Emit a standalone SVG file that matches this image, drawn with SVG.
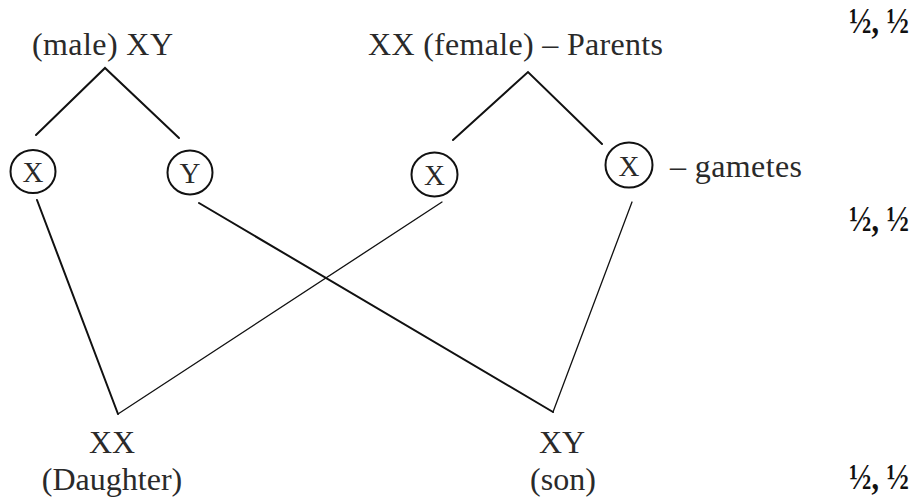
<svg xmlns="http://www.w3.org/2000/svg" width="920" height="498" viewBox="0 0 920 498">
<style>
.t{font-family:"Liberation Serif","Times New Roman",serif;font-size:32px;fill:#2a2a2a}
.c{font-family:"Liberation Serif","Times New Roman",serif;font-size:29px;fill:#2a2a2a;text-anchor:middle}
.h{font-family:"Liberation Serif","Times New Roman",serif;font-size:36px;font-weight:bold;fill:#111}
.o{fill:none;stroke:#111;stroke-width:2}
.l{fill:none;stroke:#111;stroke-width:2;stroke-linecap:round;stroke-linejoin:miter}
.l2{fill:none;stroke:#111;stroke-width:1.3;stroke-linecap:round}
</style>
<rect width="920" height="498" fill="#fff"/>
<g id="male"><text class="t" x="32" y="55" textLength="141">(male) XY</text></g>
<g id="female"><text class="t" x="368" y="55" textLength="295">XX (female) – Parents</text></g>
<g id="gx1"><ellipse class="o" cx="33" cy="171.5" rx="22.5" ry="21.5"/><text class="c" x="33" y="182">X</text></g>
<g id="gy"><ellipse class="o" cx="190" cy="172.5" rx="22.5" ry="22"/><text class="c" x="190" y="183">Y</text></g>
<g id="gx2"><ellipse class="o" cx="434.5" cy="174.5" rx="23" ry="22"/><text class="c" x="434.5" y="185">X</text></g>
<g id="gx3"><ellipse class="o" cx="629" cy="165" rx="23.5" ry="22.5"/><text class="c" x="629" y="175.5">X</text></g>
<g id="gametes"><text class="t" x="670" y="177" textLength="132">– gametes</text></g>
<g id="daughter"><text class="t" x="112" y="453" text-anchor="middle">XX</text><text class="t" x="112" y="490" text-anchor="middle">(Daughter)</text></g>
<g id="son"><text class="t" x="562" y="453" text-anchor="middle">XY</text><text class="t" x="563" y="490" text-anchor="middle">(son)</text></g>
<g id="ratios">
<text class="h" x="849" y="33" textLength="60" lengthAdjust="spacingAndGlyphs">½, ½</text>
<text class="h" x="849" y="231" textLength="60" lengthAdjust="spacingAndGlyphs">½, ½</text>
<text class="h" x="849" y="489" textLength="60" lengthAdjust="spacingAndGlyphs">½, ½</text>
</g>
<g id="connectors">
<polyline class="l" points="36,135 105,68 179,138"/>
<polyline class="l" points="453,140 528,72 602,144"/>
<line class="l" x1="37" y1="200" x2="118" y2="414"/>
<line class="l2" x1="442" y1="202" x2="118" y2="414"/>
<line class="l" x1="199" y1="203" x2="553" y2="412"/>
<line class="l2" x1="632" y1="202" x2="553" y2="412"/>
</g>
</svg>
